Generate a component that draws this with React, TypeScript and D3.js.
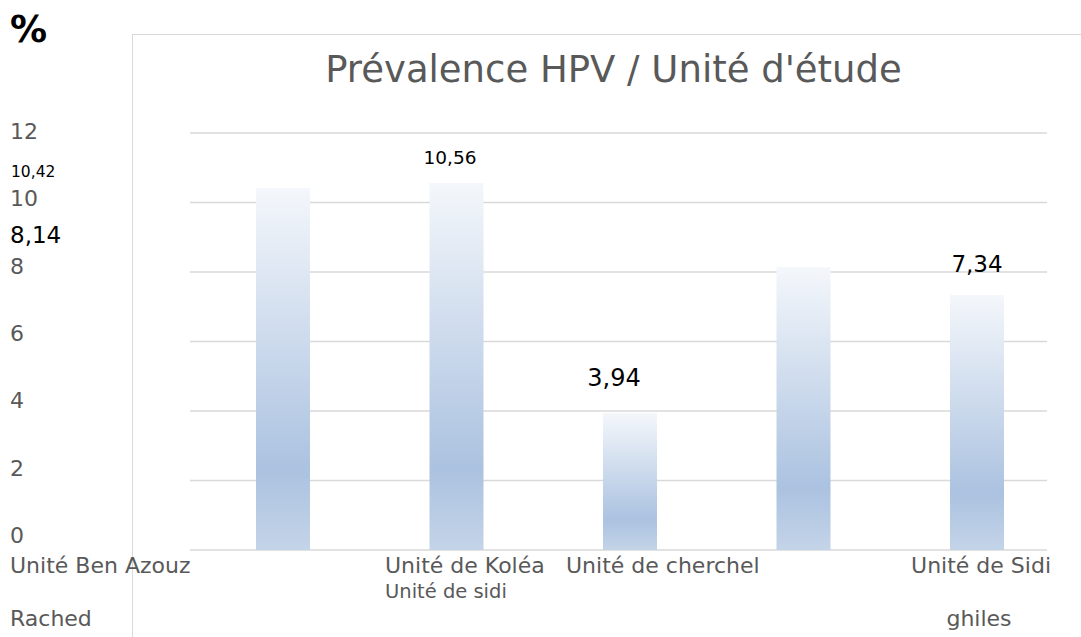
import React from "react";
import * as d3 from "d3";

const categories = ["Unité Ben Azouz Rached", "Unité de Koléa", "Unité de cherchel", "Unité de sidi", "Unité de Sidi ghiles"];
const values = [10.42, 10.56, 3.94, 8.14, 7.34];
const yTicks = [0, 2, 4, 6, 8, 10, 12];
const valueLabels = ["10,42", "10,56", "3,94", "8,14", "7,34"];

const W = 1081, H = 637;
const FONT = "DejaVu Sans, Verdana, sans-serif";

export default function App() {
  const step = 173.5;
  const bw = 54;
  const x = d3
    .scaleBand<string>()
    .domain(categories)
    .range([196.25, 196.25 + step * categories.length])
    .paddingInner(0)
    .paddingOuter(0);
  const cx = (c: string) => (x(c) as number) + x.bandwidth() / 2;
  const y = d3.scaleLinear().domain([0, 12]).range([550, 133]);
  const yLab = d3.scaleLinear().domain([0, 12]).range([543, 139]);

  const labelPos = [
    { x: 11, y: 177, size: 15.5, anchor: "start" },
    { x: 450, y: 164, size: 18.5, anchor: "middle" },
    { x: 614, y: 386, size: 24, anchor: "middle" },
    { x: 10, y: 243, size: 23, anchor: "start" },
    { x: 977, y: 272, size: 23, anchor: "middle" },
  ];

  return (
    <svg width={W} height={H} style={{ position: "absolute", left: 0, top: 0, background: "#fff" }} fontFamily={FONT}>
      <defs>
        <linearGradient id="barGrad" x1="0" y1="0" x2="0" y2="1">
          <stop offset="0%" stopColor="#f4f7fb" />
          <stop offset="78%" stopColor="#abc2e0" />
          <stop offset="100%" stopColor="#c4d4e8" />
        </linearGradient>
      </defs>
      <rect x={0} y={0} width={W} height={H} fill="#fff" />
      <line x1={132.5} y1={34} x2={132.5} y2={637} stroke="#d9d9d9" strokeWidth={1} />
      <line x1={132} y1={34.5} x2={1081} y2={34.5} stroke="#d9d9d9" strokeWidth={1} />
      <text x={10} y={42} fontSize={37} fontWeight="bold" fill="#000">%</text>
      <text x={613.5} y={82} fontSize={37} fill="#595959" textAnchor="middle">Prévalence HPV / Unité d'étude</text>
      {yTicks.map((t) => (
        <g key={t}>
          <line x1={190} x2={1047} y1={y(t)} y2={y(t)} stroke="#d9d9d9" strokeWidth={1.5} />
          <text x={10} y={yLab(t)} fontSize={22} fill="#595959">{t}</text>
        </g>
      ))}
      {values.map((v, i) => (
        <rect key={i} x={cx(categories[i]) - bw / 2} y={y(v)} width={bw} height={y(0) - y(v)} fill="url(#barGrad)" />
      ))}
      {values.map((v, i) => (
        <text key={"l" + i} x={labelPos[i].x} y={labelPos[i].y} fontSize={labelPos[i].size} fill="#000" textAnchor={labelPos[i].anchor as any}>{valueLabels[i]}</text>
      ))}
      <g fill="#595959" fontSize={22}>
        <text x={10} y={573}>Unité Ben Azouz</text>
        <text x={10} y={626}>Rached</text>
        <text x={385} y={573}>Unité de Koléa</text>
        <text x={385} y={598} fontSize={19.5}>Unité de sidi</text>
        <text x={566} y={573}>Unité de cherchel</text>
        <text x={1051} y={573} textAnchor="end">Unité de Sidi</text>
        <text x={979} y={626} textAnchor="middle">ghiles</text>
      </g>
    </svg>
  );
}
